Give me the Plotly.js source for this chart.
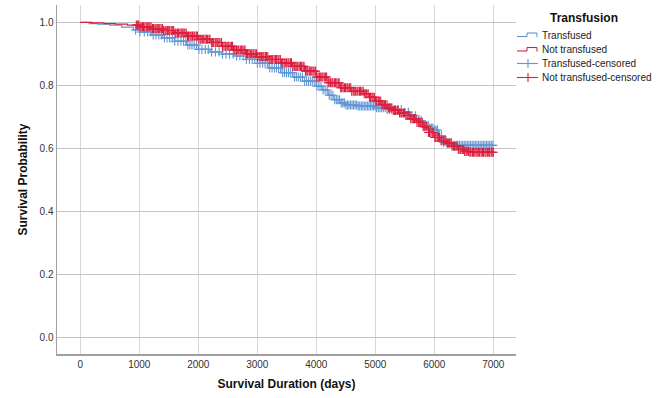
<!DOCTYPE html>
<html>
<head>
<meta charset="utf-8">
<script src="https://cdn.plot.ly/plotly-3.0.1.min.js"></script>
<style>html,body{margin:0;padding:0;background:#fff;}#chart{width:664px;height:398px;}</style>
</head>
<body>
<div id="chart"></div>
<script>
// Kaplan-Meier step data
const transTimes = [0,150,300,500,700,900,1000,1200,1400,1600,1800,2000,2200,2400,2600,2800,3000,3200,3400,3600,3800,4000,4100,4200,4300,4400,4500,4700,5000,5200,5500,5600,5700,5800,5900,6000,6070,6150,6300,7000];
const transSurv  = [1.0,0.996,0.994,0.991,0.985,0.976,0.969,0.960,0.950,0.940,0.928,0.914,0.906,0.899,0.893,0.882,0.870,0.855,0.840,0.826,0.813,0.797,0.785,0.768,0.754,0.744,0.737,0.734,0.729,0.723,0.714,0.703,0.688,0.672,0.664,0.658,0.640,0.618,0.609,0.609];

const notTimes = [0,200,400,600,800,1000,1200,1400,1600,1800,2000,2200,2400,2600,2800,3000,3200,3400,3600,3800,4000,4200,4400,4600,4800,4900,5000,5100,5200,5300,5400,5500,5600,5700,5800,5900,6000,6100,6200,6300,6400,6500,6600,7000];
const notSurv  = [1.0,0.998,0.996,0.994,0.991,0.986,0.980,0.974,0.966,0.956,0.946,0.936,0.924,0.912,0.900,0.891,0.882,0.871,0.860,0.845,0.826,0.808,0.792,0.781,0.773,0.762,0.750,0.738,0.728,0.720,0.712,0.704,0.694,0.682,0.668,0.650,0.634,0.624,0.616,0.606,0.596,0.590,0.587,0.587];

// censoring times
const transCens = [935,1010,1085,1140,1190,1235,1282,1330,1375,1425,1470,1512,1560,1600,1655,1705,1750,1790,1822,1858,1893,1930,1968,2010,2062,2118,2170,2225,2290,2352,2410,2470,2530,2592,2650,2705,2760,2815,2866,2912,2958,3002,3045,3090,3130,3172,3210,3250,3290,3325,3360,3395,3430,3462,3495,3528,3560,3595,3630,3662,3695,3730,3765,3800,3835,3870,3905,3940,3975,4010,4045,4080,4115,4150,4185,4218,4250,4282,4312,4340,4368,4395,4422,4450,4476,4502,4528,4554,4580,4606,4632,4658,4684,4710,4736,4762,4788,4814,4840,4866,4892,4918,4944,4970,4996,5022,5050,5078,5106,5136,5168,5200,5238,5280,5330,5385,5440,5500,5560,5620,5680,5735,5780,5815,5845,5872,5898,5924,5950,5976,6002,6028,6055,6085,6120,6160,6210,6255,6290,6318,6345,6372,6399,6426,6453,6480,6507,6534,6561,6588,6615,6642,6669,6696,6723,6750,6777,6804,6831,6858,6885,6912,6939,6966,6993];
const notCens = [950,972,990,1012,1031,1055,1072,1094,1118,1135,1160,1178,1199,1223,1240,1266,1284,1305,1329,1347,1370,1392,1410,1436,1453,1477,1498,1516,1541,1560,1582,1605,1621,1648,1666,1689,1711,1728,1754,1771,1796,1818,1835,1861,1879,1902,1925,1941,1967,1985,2008,2031,2048,2074,2091,2115,2138,2154,2180,2197,2221,2244,2260,2287,2303,2328,2350,2367,2393,2410,2434,2457,2473,2500,2516,2540,2563,2580,2606,2622,2647,2669,2686,2712,2729,2753,2776,2792,2818,2835,2859,2882,2899,2925,2941,2966,2988,3005,3031,3048,3072,3095,3111,3137,3154,3178,3201,3218,3244,3260,3285,3307,3324,3350,3367,3391,3414,3430,3456,3473,3497,3520,3537,3563,3579,3604,3626,3643,3669,3686,3710,3733,3749,3775,3792,3816,3839,3856,3882,3898,3923,3945,3962,3988,4005,4029,4052,4068,4094,4111,4135,4158,4175,4201,4217,4242,4264,4281,4307,4324,4348,4371,4387,4413,4430,4454,4477,4494,4520,4536,4561,4583,4600,4626,4643,4667,4690,4706,4732,4749,4773,4796,4813,4839,4855,4880,4902,4919,4945,4962,4986,5009,5025,5051,5068,5092,5115,5132,5158,5174,5199,5221,5238,5264,5281,5305,5328,5344,5370,5387,5411,5434,5451,5477,5493,5518,5540,5557,5583,5600,5624,5647,5663,5689,5706,5730,5753,5770,5796,5812,5837,5859,5876,5902,5919,5943,5966,5982,6008,6025,6049,6072,6089,6115,6131,6156,6178,6195,6221,6238,6262,6285,6301,6327,6344,6368,6391,6408,6434,6450,6475,6497,6514,6540,6557,6581,6604,6620,6646,6663,6687,6710,6727,6753,6769,6794,6816,6833,6859,6876,6900,6923,6939,6965,6982,7000];

const xTicks = [0,1000,2000,3000,4000,5000,6000,7000];
const yTicks = [0.0,0.2,0.4,0.6,0.8,1.0];
const legendTitle = 'Transfusion';
const legendNames = ['Transfused','Not transfused','Transfused-censored','Not transfused-censored'];

const BLUE = '#6296d3';
const RED = '#dc1f3f';
const legendColors = [BLUE, RED, BLUE, RED];

function stepAt(times, surv, t){
  let v = surv[0];
  for (let i=0;i<times.length;i++){ if (times[i] <= t) v = surv[i]; else break; }
  return v;
}

const font = 'Liberation Sans, Arial, sans-serif';
const M = {l:57, r:148, t:5, b:44};
const PW = 664 - M.l - M.r, PH = 398 - M.t - M.b;
const px = x => (x - M.l) / PW;          // pixel -> paper x
const py = y => (398 - M.b - y) / PH;    // pixel -> paper y

const traces = [
  {x: transTimes, y: transSurv, mode:'lines', line:{shape:'hv', color:BLUE, width:1.2}, name:legendNames[0]},
  {x: transCens, y: transCens.map(t=>stepAt(transTimes, transSurv, t)), mode:'markers', name:legendNames[2],
   marker:{symbol:'cross-thin', size:6.5, color:BLUE, line:{color:BLUE, width:1.1}}},
  {x: notTimes, y: notSurv, mode:'lines', line:{shape:'hv', color:RED, width:1.2}, name:legendNames[1]},
  {x: notCens, y: notCens.map(t=>stepAt(notTimes, notSurv, t)), mode:'markers', name:legendNames[3],
   marker:{symbol:'cross-thin', size:6.5, color:RED, line:{color:RED, width:1.1}}}
];

// hand-built legend (compact spacing like the reference)
const rowY = [35.5, 50, 63.5, 77.5];
const shapes = [];
const annotations = [];
annotations.push({xref:'paper', yref:'paper', x:px(584), y:py(17.5), text:'<b>'+legendTitle+'</b>',
  showarrow:false, xanchor:'center', yanchor:'middle', font:{size:12, color:'#111'}});
legendNames.forEach((n,i)=>{
  const y = rowY[i], c = legendColors[i];
  annotations.push({xref:'paper', yref:'paper', x:px(539.5), y:py(y), text:n, showarrow:false,
    xanchor:'left', yanchor:'middle', font:{size:10, color:'#222'}});
  const L = (x0,y0,x1,y1)=>shapes.push({type:'line', xref:'paper', yref:'paper',
    x0:px(x0), y0:py(y0), x1:px(x1), y1:py(y1), line:{color:c, width:1.1}});
  if (i < 2) {
    L(517, y+1, 527, y+1); L(527, y+1, 527, y-2.5); L(527, y-2.5, 537, y-2.5); L(537, y-2.5, 537, y+1.5);
  } else {
    L(517, y, 538, y); L(528, y-4.5, 528, y+4.5);
  }
});

const layout = {
  width:664, height:398,
  margin:M,
  paper_bgcolor:'#fff', plot_bgcolor:'#fff',
  font:{family:font, color:'#222'},
  showlegend:false,
  shapes, annotations,
  xaxis:{
    range:[-395,7385], tickvals:xTicks, ticktext:xTicks.map(String),
    showgrid:true, gridcolor:'#d6d6d6', gridwidth:1.5,
    showline:true, linecolor:'#a0a0a0', linewidth:1.5,
    zeroline:false, ticks:'', tickfont:{size:10, color:'#333'},
    title:{text:'<b>Survival Duration (days)</b>', font:{size:12, color:'#111'}, standoff:11}
  },
  yaxis:{
    range:[-0.054,1.055], tickvals:yTicks, ticktext:yTicks.map(v=>v.toFixed(1)),
    showgrid:true, gridcolor:'#c4c4c4', gridwidth:1,
    showline:true, linecolor:'#a0a0a0', linewidth:1.5,
    zeroline:false, ticks:'', tickfont:{size:10, color:'#333'},
    title:{text:'<b>Survival Probability</b>', font:{size:12, color:'#111'}, standoff:9}
  }
};

Plotly.newPlot('chart', traces, layout, {displayModeBar:false, staticPlot:true});
</script>
</body>
</html>
